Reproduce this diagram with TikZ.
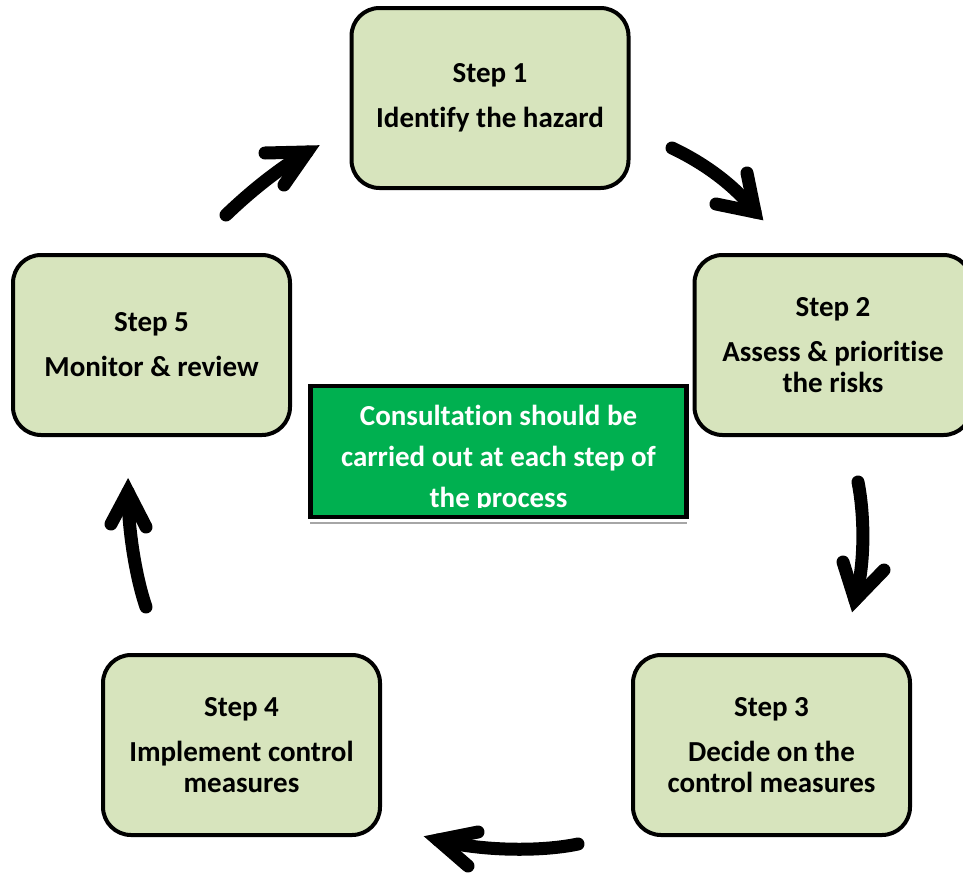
\documentclass[tikz,border=0pt]{standalone}
\usepackage{fontspec}
\setmainfont{Carlito}[Ligatures={NoCommon,NoRare}]
\begin{document}
\begin{tikzpicture}[x=1pt,y=-1pt,
  stepbox/.style={draw=black,line width=4pt,fill=boxgreen,rounded corners=28pt,
    minimum width=277pt,minimum height=180pt,inner sep=0pt,align=center,
    font=\fontsize{29}{31}\selectfont\bfseries},
  consbox/.style={draw=black,line width=4.5pt,fill=consgreen,minimum width=376pt,
    minimum height=131pt,inner sep=0pt},
  constext/.style={text=white,inner sep=0pt,anchor=base,font=\fontsize{29}{31}\selectfont\bfseries},
  shaft/.style={line width=13pt,line cap=round},
  head/.style={line width=13pt,line cap=round,line join=miter,miter limit=10}]
\definecolor{boxgreen}{RGB}{215,228,189}
\definecolor{consgreen}{RGB}{0,176,80}
\useasboundingbox (0,0) rectangle (963,878);

% step boxes
\node[stepbox] (s1) at (490,98)   {Step 1\\[14pt]Identify the hazard};
\node[stepbox] (s2) at (833,345)  {Step 2\\[14pt]Assess \& prioritise\\the risks};
\node[stepbox] (s3) at (771.5,745) {Step 3\\[14pt]Decide on the\\control measures};
\node[stepbox] (s4) at (241.5,745) {Step 4\\[14pt]Implement control\\measures};
\node[stepbox] (s5) at (151.5,345) {Step 5\\[14pt]Monitor \& review};

% centre box
\draw[gray!70,line width=2pt] (310,523) -- (687,523);
\node[consbox] (c) at (498.5,451.5) {};
\begin{scope}
  \clip (312,388) rectangle (685,507.5);
  \node[constext] (c1) at (498.5,425) {Consultation should be};
  \node[constext] (c2) at (498.5,466) {carried out at each step of};
  \node[constext] (c3) at (498.5,507) {the process};
\end{scope}

% arrow 1 -> 2
\coordinate (a1s) at (672,148);
\coordinate (a1t) at (755,212);
\coordinate (a1u) at (747,173);
\coordinate (a1l) at (716,204);
\draw[shaft] (a1s) .. controls (702,162) and (735,185) .. (a1t);
\draw[head] (a1u) -- (a1t) -- (a1l);

% arrow 2 -> 3
\coordinate (a2s) at (858,482);
\coordinate (a2t) at (855,600);
\coordinate (a2u) at (843,562);
\coordinate (a2l) at (884,570);
\draw[shaft] (a2s) .. controls (864,512) and (866,562) .. (a2t);
\draw[head] (a2u) -- (a2t) -- (a2l);

% arrow 3 -> 4
\coordinate (a3s) at (578,844);
\coordinate (a3t) at (438,840);
\coordinate (a3u) at (478,832);
\coordinate (a3l) at (468,866);
\draw[shaft] (a3s) .. controls (540,852) and (480,851) .. (a3t);
\draw[head] (a3u) -- (a3t) -- (a3l);

% arrow 4 -> 5
\coordinate (a4s) at (146,607);
\coordinate (a4t) at (128,492);
\coordinate (a4u) at (146,527);
\coordinate (a4l) at (111,524);
\draw[shaft] (a4s) .. controls (136,578) and (128,530) .. (a4t);
\draw[head] (a4u) -- (a4t) -- (a4l);

% arrow 5 -> 1
\coordinate (a5s) at (226,215);
\coordinate (a5t) at (307,152);
\coordinate (a5u) at (265,153);
\coordinate (a5l) at (284,185);
\draw[shaft] (a5s) .. controls (252,190) and (280,168) .. (a5t);
\draw[head] (a5u) -- (a5t) -- (a5l);
\end{tikzpicture}
\end{document}
